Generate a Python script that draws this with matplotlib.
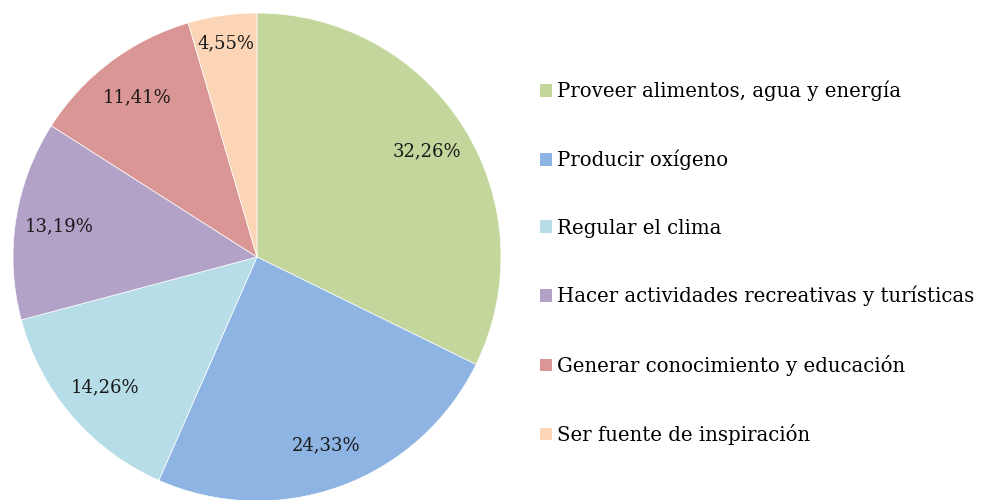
import matplotlib.pyplot as plt
from matplotlib.patches import Patch

labels = [
    "Proveer alimentos, agua y energía",
    "Producir oxígeno",
    "Regular el clima",
    "Hacer actividades recreativas y turísticas",
    "Generar conocimiento y educación",
    "Ser fuente de inspiración",
]
values = [32.26, 24.33, 14.26, 13.19, 11.41, 4.55]
colors = ["#C3D69B", "#8EB4E3", "#B7DEE8", "#B3A2C7", "#D99694", "#FBD5B5"]

plt.rcParams["font.family"] = ["DejaVu Serif"]

fig = plt.figure(figsize=(9.87, 5), dpi=100)
# pie centre at (257, 257) px, radius ~244 px
cx, cy, r = 257, 257, 244
ax = fig.add_axes([(cx - r) / 987, (500 - cy - r) / 500, 2 * r / 987, 2 * r / 500])

wedges, texts, autotexts = ax.pie(
    values, colors=colors, startangle=90, counterclock=False,
    autopct=lambda p: "", pctdistance=0.82, radius=1,
    wedgeprops=dict(linewidth=0.5, edgecolor="white"),
)
for t, v in zip(autotexts, values):
    t.set_text(("%.2f%%" % v).replace(".", ","))
    t.set_fontsize(13)
    t.set_color("#1a1a1a")
# small slice label sits a bit further out
x, y = autotexts[-1].get_position()
autotexts[-1].set_position((x * 1.08, y * 1.08))

ax.set_xlim(-1, 1)
ax.set_ylim(-1, 1)
ax.set_aspect("equal")
ax.axis("off")

handles = [Patch(facecolor=c, edgecolor="none") for c in colors]
fig.legend(
    handles, labels, loc="center left", bbox_to_anchor=(522 / 987, 237 / 500),
    frameon=False, fontsize=14.2, labelspacing=2.45,
    handlelength=0.6, handleheight=0.6, handletextpad=0.25,
)

fig.savefig("out.png", dpi=100)
